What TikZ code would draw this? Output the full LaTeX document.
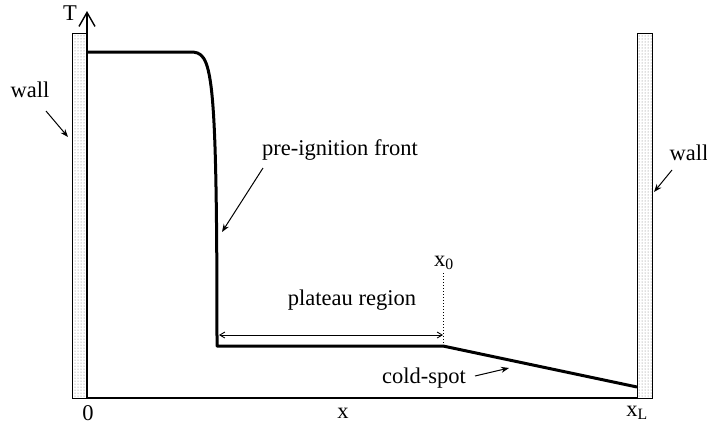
\documentclass[tikz,border=0pt]{standalone}
\usepackage{fontspec}
\setmainfont{Liberation Serif}
\usetikzlibrary{arrows.meta,patterns}
\begin{document}
\begin{tikzpicture}[x=1pt,y=-1pt,
  lbl/.style={font=\fontsize{22.5}{26}\selectfont, inner sep=0pt},
  axisline/.style={line width=1.6pt},
  wallbox/.style={draw, line width=0.8pt, pattern=dots, pattern color=black!55},
  curve/.style={line width=3pt, line join=round},
  pointer/.style={line width=1pt, -{Stealth[length=8pt,width=6pt]}},
  dim/.style={line width=0.9pt, {Straight Barb[length=5pt,width=6pt]}-{Straight Barb[length=5pt,width=6pt]}},
]
\useasboundingbox (0,0) rectangle (707,429);
% walls
\draw[wallbox] (72,33) rectangle (87,398);
\draw[wallbox] (637,33) rectangle (652,398);
% axes
\coordinate (O) at (87,398);
\coordinate (Ttop) at (87,11);
\coordinate (xend) at (637,398);
\draw[axisline] (O) -- (xend);
\draw[axisline, -{Straight Barb[length=14pt,width=16pt,line width=1.4pt]}] (O) -- (Ttop);
% curve
\coordinate (c0) at (87,52);
\coordinate (c1) at (190,52);
\coordinate (c3) at (217,346);
\coordinate (x0pt) at (443,346);
\coordinate (c5) at (637,387);
\draw[curve] (c0) -- (c1) .. controls (212,52) and (217,62) .. (c3) -- (x0pt) -- (c5);
% labels
\node[lbl] (T) at (70,13) {T};
\node[lbl] (zero) at (88,413) {0};
\node[lbl] (xlab) at (343,413) {x};
\node[lbl] (xL) at (637,413) {x\textsubscript{L}};
\node[lbl] (x0) at (444,263) {x\textsubscript{0}};
\node[lbl] (wallL) at (30,90) {wall};
\node[lbl] (wallR) at (689,153) {wall};
\node[lbl] (pre) at (340,150) {pre-ignition front};
\node[lbl] (plat) at (352,300) {plateau region};
\node[lbl] (cold) at (424,378) {cold-spot};
% pointers
\coordinate (wLs) at (46,111);
\coordinate (wLe) at (68,137);
\draw[pointer] (wLs) -- (wLe);
\coordinate (wRs) at (672,170);
\coordinate (wRe) at (654,192);
\draw[pointer] (wRs) -- (wRe);
\coordinate (pres) at (263,168);
\coordinate (pree) at (222,232);
\draw[pointer] (pres) -- (pree);
\coordinate (colds) at (475,376);
\coordinate (colde) at (509,368);
\draw[pointer] (colds) -- (colde);
% plateau dimension
\coordinate (pa) at (219,335);
\coordinate (pb) at (443,335);
\draw[dim] (pa) -- (pb);
\coordinate (dtop) at (443,273);
\draw[line width=1pt, dotted] (dtop) -- (x0pt);
\end{tikzpicture}
\end{document}
